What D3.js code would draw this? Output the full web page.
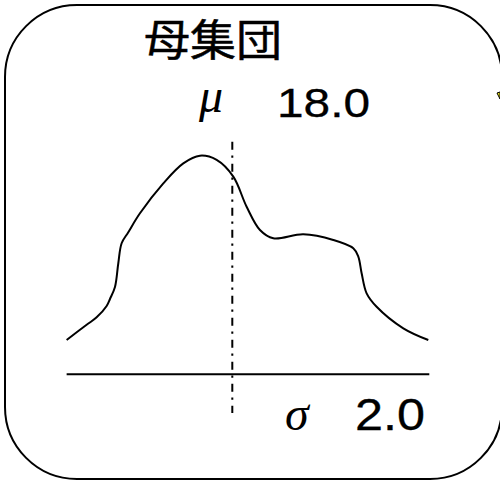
<!DOCTYPE html>
<html>
<head>
<meta charset="utf-8">
<script src="https://cdn.jsdelivr.net/npm/d3@7"></script>
<style>
  html, body { margin: 0; padding: 0; background: #fff; }
  svg { display: block; }
</style>
</head>
<body>
<svg id="chart"></svg>
<script>
// population (母集団) shape, x in data units, y in density units
var curveX = [13.03, 13.63, 13.93, 14.23, 14.33, 14.48, 14.58, 14.68, 14.88, 15.23, 15.93, 16.53, 17.03, 17.53, 18.03, 18.43, 18.83, 19.23, 20.13, 21.03, 21.63, 21.78, 21.88, 22.03, 22.33, 23.13, 23.88];
var curveY = [0.0314, 0.0453, 0.0521, 0.0625, 0.0689, 0.0799, 0.1016, 0.1199, 0.1300, 0.1473, 0.1747, 0.1930, 0.2000, 0.1961, 0.1808, 0.1533, 0.1320, 0.1244, 0.1281, 0.1229, 0.1153, 0.1077, 0.0925, 0.0741, 0.0618, 0.0421, 0.0314];
var title = "母集団";
var mu = 18.0;
var sigma = 2.0;

var width = 500, height = 483;
var svg = d3.select("#chart").attr("width", width).attr("height", height);

var x = d3.scaleLinear().domain([12, 24]).range([32.3, 432.3]);
var y = d3.scaleLinear().domain([0, 0.2]).range([374.3, 155.7]);

// outer rounded frame
svg.append("rect")
  .attr("x", 5).attr("y", 5)
  .attr("width", 497).attr("height", 474)
  .attr("rx", 72).attr("ry", 72)
  .attr("fill", "none").attr("stroke", "#000").attr("stroke-width", 2);

// small fragment at right edge
svg.append("path")
  .attr("d", "M497,93 L500,92 L500,99 Z")
  .attr("fill", "#e8e020").attr("stroke", "#000").attr("stroke-width", 1);

// title
svg.append("text")
  .attr("x", 144).attr("y", 56)
  .attr("font-family", "'Noto Sans CJK JP', sans-serif")
  .attr("font-size", 43)
  .attr("stroke", "#000").attr("stroke-width", 0.5)
  .attr("textLength", 138).attr("lengthAdjust", "spacingAndGlyphs")
  .text(title);

// mu label
svg.append("text")
  .attr("x", 199).attr("y", 112)
  .attr("font-family", "'Liberation Serif', serif")
  .attr("font-style", "italic")
  .attr("font-size", 48)
  .text("μ");
svg.append("text")
  .attr("x", 277).attr("y", 117)
  .attr("font-family", "'Liberation Sans', Arial, sans-serif")
  .attr("font-size", 40)
  .attr("stroke", "#000").attr("stroke-width", 0.3)
  .attr("textLength", 93).attr("lengthAdjust", "spacingAndGlyphs")
  .text(d3.format(".1f")(mu));

// sigma label
svg.append("text")
  .attr("x", 285).attr("y", 430)
  .attr("font-family", "'Liberation Serif', serif")
  .attr("font-style", "italic")
  .attr("font-size", 48)
  .text("σ");
svg.append("text")
  .attr("x", 355).attr("y", 430)
  .attr("font-family", "'Liberation Sans', Arial, sans-serif")
  .attr("font-size", 44)
  .attr("stroke", "#000").attr("stroke-width", 0.3)
  .attr("textLength", 70).attr("lengthAdjust", "spacingAndGlyphs")
  .text(d3.format(".1f")(sigma));

// baseline
svg.append("line")
  .attr("x1", x(d3.min(curveX))).attr("x2", x(d3.max(curveX)) + 1)
  .attr("y1", y(0)).attr("y2", y(0))
  .attr("stroke", "#000").attr("stroke-width", 2);

// density curve
var pts = curveX.map(function(v, i) { return [v, curveY[i]]; });
var line = d3.line()
  .x(function(d) { return x(d[0]); })
  .y(function(d) { return y(d[1]); })
  .curve(d3.curveCatmullRom.alpha(0.5));
svg.append("path")
  .datum(pts)
  .attr("d", line)
  .attr("fill", "none").attr("stroke", "#000").attr("stroke-width", 2);

// mean line (dash-dot)
svg.append("line")
  .attr("x1", x(mu)).attr("x2", x(mu))
  .attr("y1", 141.7).attr("y2", 413)
  .attr("stroke", "#000").attr("stroke-width", 2)
  .attr("stroke-dasharray", "8,5.7,2.3,6");
</script>
</body>
</html>
